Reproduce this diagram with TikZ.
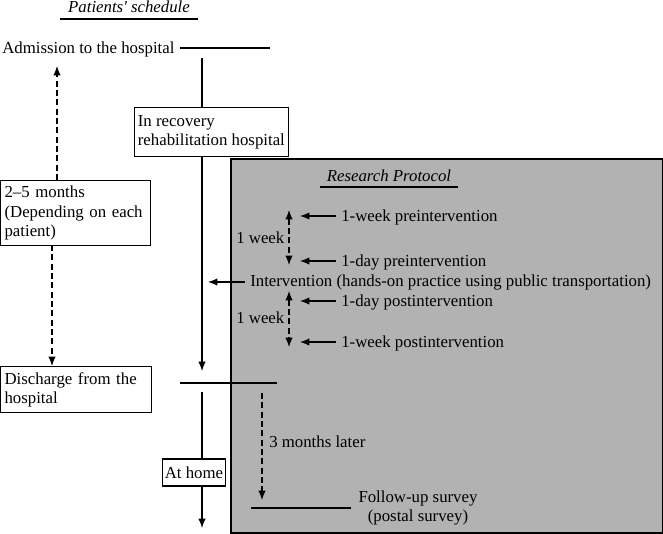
\documentclass[tikz,border=0pt]{standalone}
\usepackage{fontspec}
\setmainfont{Liberation Serif}
\usetikzlibrary{arrows.meta}
\begin{document}
\begin{tikzpicture}[x=0.75pt,y=-0.75pt,
  every node/.style={font=\fontsize{12.6}{14.5}\selectfont, inner sep=0pt},
  ln/.style={line width=0.85pt},
  tip/.tip={Latex[length=7pt,width=5.5pt]},
  arr/.style={ln,-tip},
  darr/.style={ln,dash pattern=on 4.5pt off 2.5pt,-tip},
  dbl/.style={ln,dash pattern=on 4.5pt off 2.5pt,tip-tip},
  boxn/.style={draw,line width=0.85pt,fill=white,inner xsep=3pt,inner ysep=2.5pt,align=left,anchor=north west},
  txt/.style={anchor=west,align=left}]
\useasboundingbox (0,0) rectangle (663,534);
% gray research area
\fill[fill=gray!60, draw=black, line width=0.85pt] (231,159) rectangle (663,533);
\node[font=\fontsize{12.6}{14.5}\selectfont\itshape] (ps) at (129,7) {Patients\textquotesingle\ schedule};
\draw[ln] (60,19) -- (198,19);
% admission
\node[txt] (adm) at (2,49) {Admission to the hospital};
\coordinate (a1) at (180,48); \coordinate (a2) at (270,48);
\draw[ln] (a1) -- (a2);
% recovery box
\node[boxn,inner xsep=2.5pt,minimum height=49*0.75pt] (rec) at (134,107) {In recovery\\rehabilitation hospital};
\coordinate (v0) at (202,58);
\coordinate (v1) at (202,371);
\draw[ln] (v0) -- (v0 |- rec.north);
\draw[arr] (v0 |- rec.south) -- (v1);
% months box
\node[boxn,minimum height=65*0.75pt,text width=142*0.75pt] (mon) at (0,180) {2–5 months\\(Depending on each\\patient)};
\coordinate (up) at (57,66);
\draw[darr] (57,180) -- (up);
% discharge box
\node[boxn,minimum height=46*0.75pt,text width=143*0.75pt] (dis) at (0,366) {Discharge from the\\hospital};
\draw[darr] (52,245) -- (52,366);
\coordinate (d1) at (180,383); \coordinate (d2) at (277,383);
\draw[ln] (d1) -- (d2);
% at home
\node[boxn,inner xsep=1.5pt,minimum height=27*0.75pt,anchor=center] (home) at (194,472.5) {At home};
\coordinate (h0) at (202,392);
\coordinate (h1) at (202,528);
\draw[ln] (h0) -- (h0 |- home.north);
\draw[arr] (h0 |- home.south) -- (h1);
% research protocol
\node[font=\fontsize{12.6}{14.5}\selectfont\itshape] (rp) at (389,176) {Research Protocol};
\draw[ln] (320,187) -- (458,187);
\node[txt] (w1) at (341,217) {1-week preintervention};
\node[txt] (d1p) at (341,262) {1-day preintervention};
\node[txt] (int) at (250,282) {Intervention (hands-on practice using public transportation)};
\node[txt] (d1q) at (341,302) {1-day postintervention};
\node[txt] (w1q) at (341,343) {1-week postintervention};
\coordinate (t1) at (289,210); \coordinate (t2) at (289,265);
\coordinate (t3) at (289,291); \coordinate (t4) at (289,347);
\draw[dbl] (t1) -- (t2);
\draw[dbl] (t3) -- (t4);
\node[txt] (wk1) at (236,238) {1 week};
\node[txt] (wk2) at (236,318) {1 week};
\coordinate (e1) at (300,216); \coordinate (e2) at (300,261);
\coordinate (e3) at (300,301); \coordinate (e4) at (300,342);
\coordinate (e5) at (208,282);
\draw[arr] (336,216) -- (e1);
\draw[arr] (336,261) -- (e2);
\draw[arr] (336,301) -- (e3);
\draw[arr] (336,342) -- (e4);
\draw[arr] (int.west) ++(-4pt,0) -- (e5);
% follow-up
\coordinate (f0) at (262,393); \coordinate (f1) at (262,500);
\draw[darr] (f0) -- (f1);
\node[txt] (ml) at (269,442) {3 months later};
\coordinate (s1) at (251,508); \coordinate (s2) at (351,508);
\draw[ln] (s1) -- (s2);
\node[align=center] (fu) at (418,508) {Follow-up survey\\(postal survey)};
\end{tikzpicture}
\end{document}
